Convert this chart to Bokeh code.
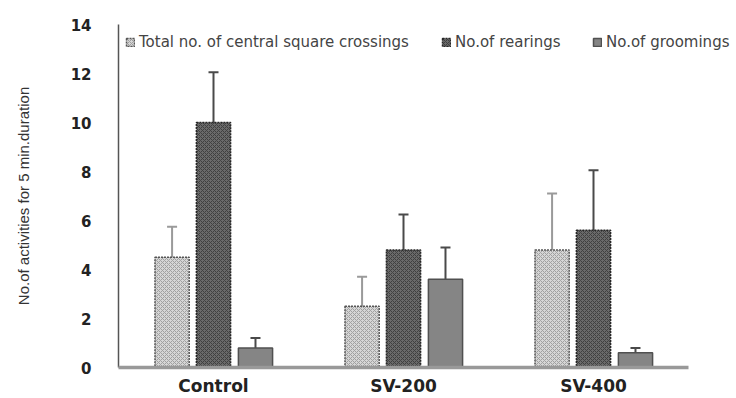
from bokeh.plotting import figure
from bokeh.models import (Range1d, FixedTicker, Whisker, TeeHead,
                          ColumnDataSource, Legend, LegendItem)
from bokeh.embed import file_html
from bokeh.resources import INLINE

# Treatment groups and measured activities (mean and SD over 5 min)
groups = ["Control", "SV-200", "SV-400"]
series = ["Total no. of central square crossings", "No.of rearings", "No.of groomings"]
crossings = [4.5, 2.5, 4.8]
crossings_sd = [1.25, 1.2, 2.3]
rearings = [10.0, 4.8, 5.6]
rearings_sd = [2.05, 1.45, 2.45]
groomings = [0.8, 3.6, 0.6]
groomings_sd = [0.4, 1.3, 0.2]
y_ticks = [0, 2, 4, 6, 8, 10, 12, 14]

# group centres on a numeric axis; the frame runs on past the last group
# so the legend has room to the right edge
centres = [i + 0.5 for i in range(len(groups))]
PX_PER_GROUP = 190
FRAME_W = 736 - 118

p = figure(width=736, height=398, x_range=Range1d(0, FRAME_W / PX_PER_GROUP),
           y_range=Range1d(0, 14), output_backend="svg", toolbar_location=None,
           min_border_left=118, min_border_right=0, min_border_top=24,
           min_border_bottom=30)
p.outline_line_color = None
p.grid.visible = False
p.background_fill_color = "white"

styles = [
    dict(fill_color="#d6d6d6", hatch_pattern="diagonal_cross", hatch_color="#a0a0a0",
         hatch_scale=4, hatch_weight=1, line_color="#555555", line_dash="2 1",
         err="#9a9a9a"),
    dict(fill_color="#6a6a6a", hatch_pattern="diagonal_cross", hatch_color="#404040",
         hatch_scale=4, hatch_weight=1, line_color="#262626", line_dash="2 1",
         err="#4a4a4a"),
    dict(fill_color="#858585", hatch_pattern=None, hatch_color=None,
         hatch_scale=4, hatch_weight=1, line_color="#505050", line_dash="solid",
         err="#4a4a4a"),
]
offsets = [-0.218, 0.0, 0.221]
values = [crossings, rearings, groomings]
sds = [crossings_sd, rearings_sd, groomings_sd]
# legend entry positions (screen px from the frame's left edge)
legend_x = [7, 323, 474]

# category baseline (x axis line), across the groups only
p.segment(x0=[0], x1=[len(groups)], y0=[0], y1=[0], line_color="#999999",
          line_width=3.5, level="overlay")

for name, vals, sd, off, st, lx in zip(series, values, sds, offsets, styles, legend_x):
    src = ColumnDataSource(dict(
        x=[c + off for c in centres], top=vals,
        upper=[v + s for v, s in zip(vals, sd)],
        lower=[v - s for v, s in zip(vals, sd)],
    ))
    kw = dict(fill_color=st["fill_color"], line_color=st["line_color"],
              line_width=1.5, line_dash=st["line_dash"])
    if st["hatch_pattern"]:
        kw.update(hatch_pattern=st["hatch_pattern"], hatch_color=st["hatch_color"],
                  hatch_scale=st["hatch_scale"], hatch_weight=st["hatch_weight"])
    r = p.vbar(x="x", top="top", width=0.18, source=src, **kw)
    w = Whisker(base="x", upper="upper", lower="lower",
                source=src, line_color=st["err"], line_width=2,
                upper_head=TeeHead(size=10, line_color=st["err"], line_width=2),
                lower_head=TeeHead(size=10, line_color=st["err"], line_width=2))
    p.add_layout(w)
    legend = Legend(items=[LegendItem(label=name, renderers=[r])],
                    location=(lx, 316), glyph_width=10, glyph_height=10,
                    label_standoff=4, padding=0, margin=0, border_line_color=None,
                    background_fill_alpha=0, label_text_font="DejaVu Sans",
                    label_text_font_size="15px", label_text_color="#444444",
                    label_height=12)
    p.add_layout(legend, "center")

# Axes
p.yaxis.ticker = FixedTicker(ticks=y_ticks)
p.yaxis.major_tick_line_color = None
p.yaxis.minor_tick_line_color = None
p.yaxis.axis_line_color = "#555555"
p.yaxis.axis_line_width = 1.5
p.yaxis.major_label_text_font = "DejaVu Sans"
p.yaxis.major_label_text_font_style = "bold"
p.yaxis.major_label_text_font_size = "15px"
p.yaxis.major_label_text_color = "#222222"
p.yaxis.major_label_standoff = 21
p.yaxis.axis_label = "No.of activities for 5 min.duration"
p.yaxis.axis_label_text_font = "Liberation Sans"
p.yaxis.axis_label_text_font_style = "normal"
p.yaxis.axis_label_text_font_size = "15px"
p.yaxis.axis_label_text_color = "#333333"
p.yaxis.axis_label_standoff = 36

p.xaxis.ticker = FixedTicker(ticks=centres)
p.xaxis.major_label_overrides = {c: g for c, g in zip(centres, groups)}
p.xaxis.axis_line_color = None
p.xaxis.major_tick_line_color = None
p.xaxis.minor_tick_line_color = None
p.xaxis.major_label_text_font = "DejaVu Sans"
p.xaxis.major_label_text_font_style = "bold"
p.xaxis.major_label_text_font_size = "17px"
p.xaxis.major_label_text_color = "#222222"
p.xaxis.major_label_standoff = 2

open("out.html", "w").write(file_html(p, INLINE))
